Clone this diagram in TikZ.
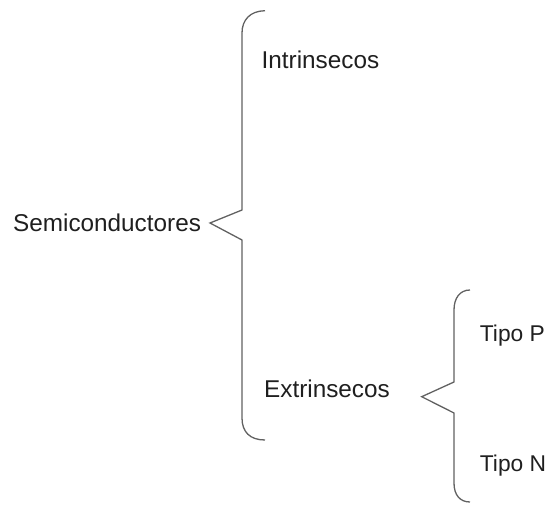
\documentclass[tikz,border=0pt]{standalone}
\usepackage{fontspec}
\setmainfont{Liberation Sans}
\begin{document}
\begin{tikzpicture}[x=1pt,y=-1pt,
  label/.style={anchor=base west,inner sep=0pt,text=black!88,
    font=\fontsize{24.3}{28}\selectfont},
  smalllabel/.style={label,font=\fontsize{22.8}{27}\selectfont},
  brace/.style={draw=black!62,line width=1.3pt,line join=miter}]
\useasboundingbox (0,0) rectangle (547,505);

% labels
\node[label] (semi)  at (13,231.7)  {Semiconductores};
\node[label] (intr)  at (261.5,69)  {Intrinsecos};
\node[label] (extr)  at (264,397.7) {Extrinsecos};
\node[smalllabel] (tipop) at (479.7,341.5) {Tipo P};
\node[smalllabel] (tipon) at (479.7,471.7) {Tipo N};

% tips of the two braces
\coordinate (tipA) at (210,223);
\coordinate (tipB) at (421.7,396.7);

% large brace
\draw[brace] (265,10.7) .. controls (250,11) and (242,20) .. (242,33)
  -- (242,210) -- (tipA) -- (242,240) -- (242,418)
  .. controls (242,432) and (250,440) .. (265,440);

% small brace
\draw[brace] (470,290) .. controls (460,290) and (454,298) .. (454,310)
  -- (454,382) -- (tipB) -- (454,413) -- (454,483)
  .. controls (454,495) and (460,502) .. (470,502);
\end{tikzpicture}
\end{document}
